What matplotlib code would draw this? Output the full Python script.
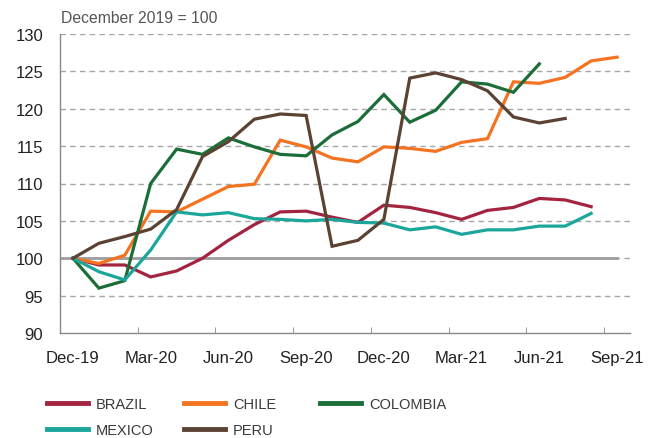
import numpy as np
import matplotlib.pyplot as plt
from matplotlib.lines import Line2D

plt.rcParams['font.family'] = ['Liberation Sans', 'DejaVu Sans']

# monthly index, December 2019 = 100
months = ['Dec-19', 'Jan-20', 'Feb-20', 'Mar-20', 'Apr-20', 'May-20', 'Jun-20', 'Jul-20',
          'Aug-20', 'Sep-20', 'Oct-20', 'Nov-20', 'Dec-20', 'Jan-21', 'Feb-21', 'Mar-21',
          'Apr-21', 'May-21', 'Jun-21', 'Jul-21', 'Aug-21', 'Sep-21']

brazil = [100, 99.1, 99.1, 97.5, 98.3, 100.0, 102.4, 104.5, 106.2, 106.3, 105.5, 104.8,
          107.1, 106.8, 106.1, 105.2, 106.4, 106.8, 108.0, 107.8, 106.9]
chile = [100, 99.3, 100.4, 106.3, 106.2, 107.9, 109.6, 109.9, 115.8, 114.9, 113.4, 112.9,
         114.9, 114.7, 114.3, 115.5, 116.0, 123.6, 123.4, 124.2, 126.4, 126.9]
colombia = [100, 96.0, 97.0, 110.0, 114.6, 113.9, 116.1, 114.9, 113.9, 113.7, 116.5, 118.3,
            121.9, 118.2, 119.8, 123.6, 123.3, 122.2, 126.0]
mexico = [100, 98.2, 97.1, 101.1, 106.2, 105.8, 106.1, 105.3, 105.2, 105.0, 105.2, 104.8,
          104.7, 103.8, 104.2, 103.2, 103.8, 103.8, 104.3, 104.3, 106.0]
peru = [100, 102.0, 102.9, 103.9, 106.5, 113.6, 115.6, 118.6, 119.3, 119.1, 101.6, 102.4,
        105.2, 124.1, 124.8, 123.9, 122.4, 118.9, 118.1, 118.7]

series = [('BRAZIL', brazil, '#a3243f'),
          ('CHILE', chile, '#f47321'),
          ('COLOMBIA', colombia, '#1b6e38'),
          ('MEXICO', mexico, '#1ba69b'),
          ('PERU', peru, '#5b4232')]

fig = plt.figure(figsize=(6.56, 4.39), dpi=100)
ax = fig.add_axes([60/656, 105/439, 570/656, 299/439])

x_all = np.arange(len(months))
ax.set_xlim(-0.5, len(months) - 0.5)
ax.set_ylim(90, 130)

# grid + base line at 100
for v in range(95, 131, 5):
    ax.axhline(v, color='#a6a6a6', lw=1, ls=(0, (4, 3)), zorder=0)
ax.plot([-0.5, 21], [100, 100], color='#9d9d9d', lw=2, zorder=1)

for name, vals, col in series:
    ax.plot(np.arange(len(vals)), vals, color=col, lw=2.3, label=name, zorder=3,
            solid_joinstyle='miter')

ax.set_yticks(range(90, 131, 5))
ax.set_xticks(x_all[::3], months[::3])
ax.set_xticks(np.arange(2.5, 21, 3), minor=True)
ax.tick_params(axis='x', which='major', length=0, pad=12, labelsize=12, colors='#222222')
ax.tick_params(axis='x', which='minor', direction='in', length=4, color='#888888')
ax.tick_params(axis='y', length=0, pad=12, labelsize=12, colors='#222222')
for s in ['top', 'right']:
    ax.spines[s].set_visible(False)
for s in ['left', 'bottom']:
    ax.spines[s].set_color('#888888')
    ax.spines[s].set_linewidth(1)

fig.text(61/656, 416/439, 'December 2019 = 100', fontsize=11.3, color='#555555', va='baseline')

# legend, one per column
cols = [[0, 3], [1, 4], [2]]
xs = [47, 184, 320]
for idx, x0 in zip(cols, xs):
    handles = [Line2D([], [], color=series[i][2], lw=3.5) for i in idx]
    labels = [series[i][0] for i in idx]
    leg = fig.legend(handles, labels, loc='upper left', bbox_to_anchor=(x0/656, 1 - 398/439),
                     frameon=False, fontsize=10.5, handlelength=2.8, handletextpad=0.55,
                     labelspacing=0.8, borderaxespad=0, borderpad=0)
    for t in leg.get_texts():
        t.set_color('#3a3a3a')

fig.savefig('out.png', dpi=100)
